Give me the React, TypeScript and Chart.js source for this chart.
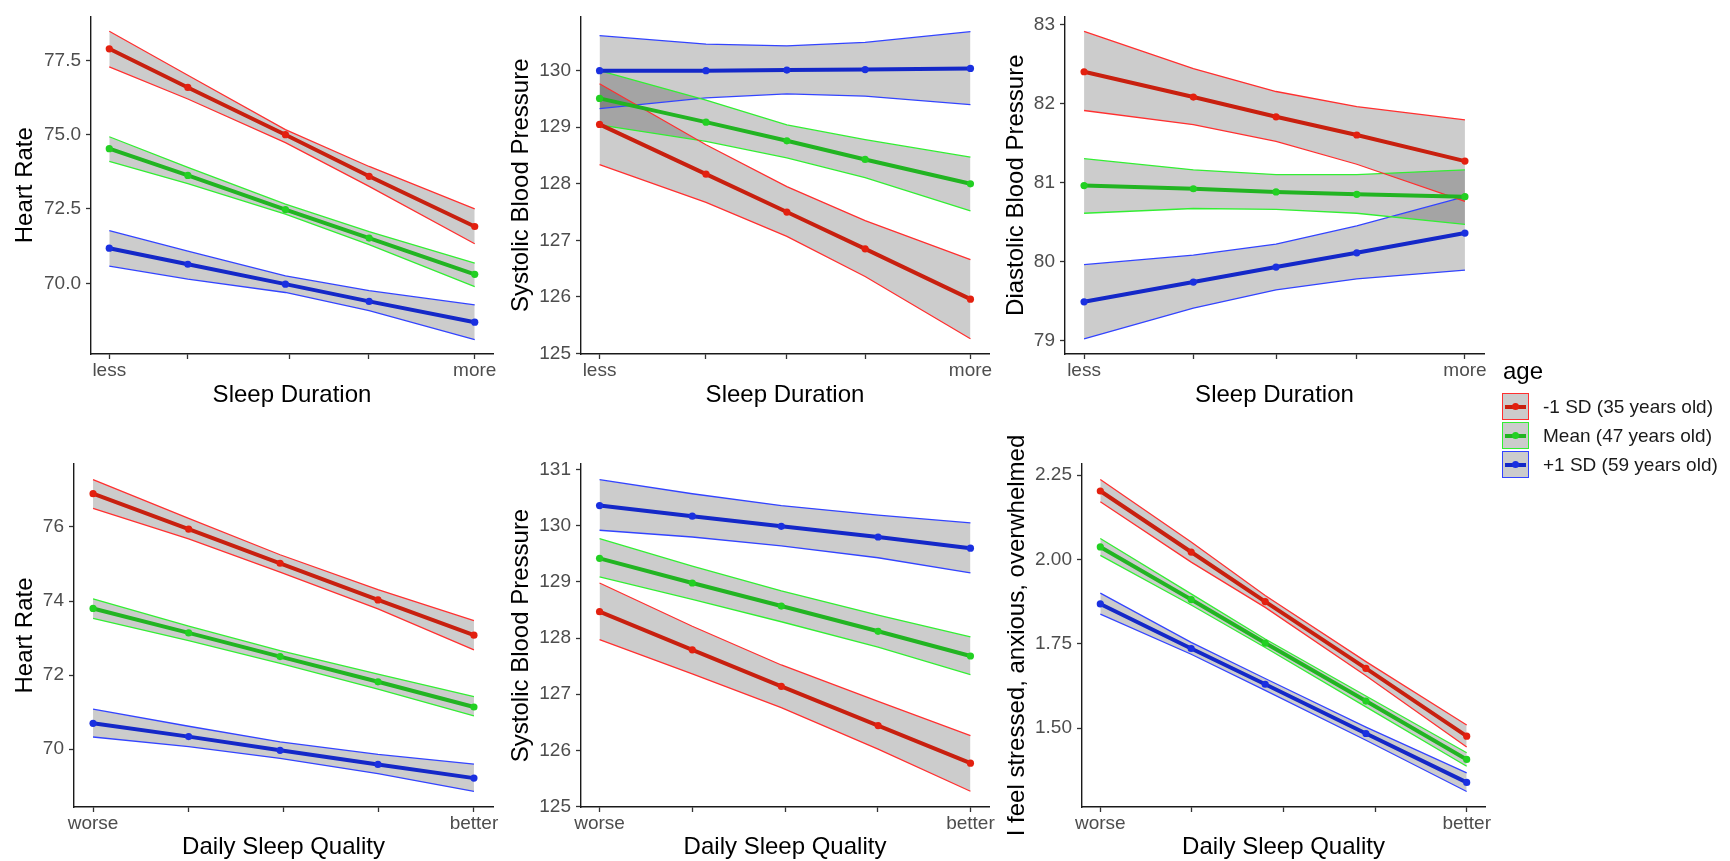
import React, { useEffect, useRef } from 'react';
import { Chart, registerables } from 'chart.js';

Chart.register(...registerables);

const FONT = "'Liberation Sans', Arial, Helvetica, sans-serif";

// ---- groups ----
const GROUP_LABELS = ['-1 SD (35 years old)', 'Mean (47 years old)', '+1 SD (59 years old)'];
const LINE_COLORS = ['#C8200F', '#22B422', '#1428C8'];
const POINT_COLORS = ['#E3200F', '#22D022', '#1A30E0'];
const EDGE_COLORS = ['#FF3030', '#33EE33', '#3344FF'];
const RIBBON_FILL = 'rgba(0,0,0,0.2)';

// ---- axis labels ----
const DURATION_X_LABELS = ['less', '', '', '', 'more'];
const QUALITY_X_LABELS = ['worse', '', '', '', 'better'];

// ---- Panel 1: Heart Rate vs Sleep Duration ----
const P1_X = [0, 0.215, 0.482, 0.711, 1];
const P1_XTICKS = [0, 0.215, 0.494, 0.709, 1];
const P1_YTICKS = [70, 72.5, 75, 77.5];
const P1_RED = [77.89, 76.59, 75.0, 73.6, 71.91];
const P1_RED_HI = [78.48, 77.0, 75.17, 73.93, 72.5];
const P1_RED_LO = [77.28, 76.2, 74.73, 73.26, 71.33];
const P1_GREEN = [74.53, 73.63, 72.48, 71.52, 70.3];
const P1_GREEN_HI = [74.93, 73.9, 72.66, 71.74, 70.68];
const P1_GREEN_LO = [74.1, 73.35, 72.33, 71.3, 69.89];
const P1_BLUE = [71.18, 70.64, 69.97, 69.39, 68.69];
const P1_BLUE_HI = [71.77, 71.08, 70.25, 69.75, 69.27];
const P1_BLUE_LO = [70.58, 70.14, 69.69, 69.08, 68.1];

// ---- Panel 2: Systolic BP vs Sleep Duration ----
const P2_X = [0, 0.287, 0.505, 0.716, 1];
const P2_YTICKS = [125, 126, 127, 128, 129, 130];
const P2_RED = [129.05, 128.17, 127.5, 126.85, 125.96];
const P2_RED_HI = [129.77, 128.69, 127.95, 127.35, 126.66];
const P2_RED_LO = [128.34, 127.67, 127.07, 126.36, 125.26];
const P2_GREEN = [129.51, 129.09, 128.76, 128.43, 128.0];
const P2_GREEN_HI = [130.0, 129.48, 129.04, 128.78, 128.47];
const P2_GREEN_LO = [129.04, 128.75, 128.46, 128.11, 127.52];
const P2_BLUE = [130.0, 130.0, 130.01, 130.02, 130.04];
const P2_BLUE_HI = [130.62, 130.47, 130.44, 130.5, 130.69];
const P2_BLUE_LO = [129.33, 129.52, 129.59, 129.55, 129.4];

// ---- Panel 3: Diastolic BP vs Sleep Duration ----
const P3_X = [0, 0.287, 0.504, 0.716, 1];
const P3_YTICKS = [79, 80, 81, 82, 83];
const P3_RED = [82.4, 82.08, 81.83, 81.6, 81.27];
const P3_RED_HI = [82.91, 82.44, 82.15, 81.96, 81.79];
const P3_RED_LO = [81.91, 81.73, 81.52, 81.23, 80.76];
const P3_GREEN = [80.96, 80.92, 80.88, 80.85, 80.82];
const P3_GREEN_HI = [81.3, 81.16, 81.1, 81.1, 81.16];
const P3_GREEN_LO = [80.61, 80.67, 80.66, 80.61, 80.47];
const P3_BLUE = [79.49, 79.74, 79.93, 80.11, 80.36];
const P3_BLUE_HI = [79.96, 80.08, 80.22, 80.45, 80.82];
const P3_BLUE_LO = [79.02, 79.41, 79.64, 79.78, 79.89];

// ---- Panel 4: Heart Rate vs Daily Sleep Quality ----
const P4_X = [0, 0.251, 0.491, 0.748, 1];
const QUALITY_XTICKS = [0, 0.25, 0.5, 0.75, 1];
const P4_YTICKS = [70, 72, 74, 76];
const P4_RED = [76.9, 75.94, 75.02, 74.03, 73.08];
const P4_RED_HI = [77.28, 76.23, 75.25, 74.31, 73.47];
const P4_RED_LO = [76.5, 75.68, 74.78, 73.79, 72.68];
const P4_GREEN = [73.8, 73.14, 72.5, 71.82, 71.14];
const P4_GREEN_HI = [74.06, 73.32, 72.66, 72.03, 71.42];
const P4_GREEN_LO = [73.53, 72.93, 72.32, 71.62, 70.9];
const P4_BLUE = [70.7, 70.34, 69.97, 69.59, 69.22];
const P4_BLUE_HI = [71.08, 70.62, 70.2, 69.86, 69.6];
const P4_BLUE_LO = [70.33, 70.07, 69.75, 69.34, 68.86];

// ---- Panel 5: Systolic BP vs Daily Sleep Quality ----
const P5_X = [0, 0.25, 0.49, 0.751, 1];
const P5_YTICKS = [125, 126, 127, 128, 129, 130, 131];
const P5_RED = [128.47, 127.79, 127.14, 126.44, 125.77];
const P5_RED_HI = [128.98, 128.21, 127.52, 126.87, 126.26];
const P5_RED_LO = [127.97, 127.36, 126.76, 126.02, 125.27];
const P5_GREEN = [129.42, 128.98, 128.57, 128.12, 127.68];
const P5_GREEN_HI = [129.77, 129.28, 128.84, 128.41, 128.02];
const P5_GREEN_LO = [129.09, 128.69, 128.29, 127.84, 127.35];
const P5_BLUE = [130.36, 130.17, 129.99, 129.8, 129.6];
const P5_BLUE_HI = [130.82, 130.57, 130.36, 130.19, 130.05];
const P5_BLUE_LO = [129.92, 129.8, 129.64, 129.43, 129.16];

// ---- Panel 6: Stress vs Daily Sleep Quality ----
const P6_X = [0, 0.248, 0.45, 0.725, 1];
const P6_YTICKS = [1.5, 1.75, 2.0, 2.25];
const P6_RED = [2.203, 2.022, 1.875, 1.677, 1.476];
const P6_RED_HI = [2.237, 2.052, 1.893, 1.697, 1.509];
const P6_RED_LO = [2.171, 1.992, 1.858, 1.655, 1.444];
const P6_GREEN = [2.037, 1.881, 1.752, 1.58, 1.407];
const P6_GREEN_HI = [2.062, 1.898, 1.764, 1.595, 1.427];
const P6_GREEN_LO = [2.012, 1.865, 1.739, 1.563, 1.387];
const P6_BLUE = [1.868, 1.736, 1.63, 1.484, 1.339];
const P6_BLUE_HI = [1.9, 1.754, 1.647, 1.503, 1.367];
const P6_BLUE_LO = [1.838, 1.719, 1.612, 1.464, 1.312];

type PanelCfg = {
  xTitle: string;
  yTitle: string;
  xs: number[];
  xTicks: number[];
  xLabels: string[];
  yTicks: number[];
  yMin: number;
  yMax: number;
  decimals: number;
  means: number[][];
  his: number[][];
  los: number[][];
  left: number;
  top: number;
  width: number;
  height: number;
  yAxisW: number;
  xAxisH: number;
  padTop: number;
};

const TOP = { top: 0, height: 410, xAxisH: 56, padTop: 12 };
const BOT = { top: 420, height: 442, xAxisH: 55, padTop: 44 };

const PANELS: PanelCfg[] = [
  {
    xTitle: 'Sleep Duration', yTitle: 'Heart Rate', xs: P1_X, xTicks: P1_XTICKS, xLabels: DURATION_X_LABELS,
    yTicks: P1_YTICKS, yMin: 67.62, yMax: 78.98, decimals: 1,
    means: [P1_RED, P1_GREEN, P1_BLUE], his: [P1_RED_HI, P1_GREEN_HI, P1_BLUE_HI], los: [P1_RED_LO, P1_GREEN_LO, P1_BLUE_LO],
    left: 11, width: 507, yAxisW: 80, ...TOP,
  },
  {
    xTitle: 'Sleep Duration', yTitle: 'Systolic Blood Pressure', xs: P2_X, xTicks: P2_X, xLabels: DURATION_X_LABELS,
    yTicks: P2_YTICKS, yMin: 124.99, yMax: 130.96, decimals: 0,
    means: [P2_RED, P2_GREEN, P2_BLUE], his: [P2_RED_HI, P2_GREEN_HI, P2_BLUE_HI], los: [P2_RED_LO, P2_GREEN_LO, P2_BLUE_LO],
    left: 507, width: 507, yAxisW: 74, ...TOP,
  },
  {
    xTitle: 'Sleep Duration', yTitle: 'Diastolic Blood Pressure', xs: P3_X, xTicks: P3_X, xLabels: DURATION_X_LABELS,
    yTicks: P3_YTICKS, yMin: 78.83, yMax: 83.1, decimals: 0,
    means: [P3_RED, P3_GREEN, P3_BLUE], his: [P3_RED_HI, P3_GREEN_HI, P3_BLUE_HI], los: [P3_RED_LO, P3_GREEN_LO, P3_BLUE_LO],
    left: 1002, width: 507, yAxisW: 63, ...TOP,
  },
  {
    xTitle: 'Daily Sleep Quality', yTitle: 'Heart Rate', xs: P4_X, xTicks: QUALITY_XTICKS, xLabels: QUALITY_X_LABELS,
    yTicks: P4_YTICKS, yMin: 68.44, yMax: 77.7, decimals: 0,
    means: [P4_RED, P4_GREEN, P4_BLUE], his: [P4_RED_HI, P4_GREEN_HI, P4_BLUE_HI], los: [P4_RED_LO, P4_GREEN_LO, P4_BLUE_LO],
    left: 11, width: 507, yAxisW: 63, ...BOT,
  },
  {
    xTitle: 'Daily Sleep Quality', yTitle: 'Systolic Blood Pressure', xs: P5_X, xTicks: QUALITY_XTICKS, xLabels: QUALITY_X_LABELS,
    yTicks: P5_YTICKS, yMin: 124.99, yMax: 131.1, decimals: 0,
    means: [P5_RED, P5_GREEN, P5_BLUE], his: [P5_RED_HI, P5_GREEN_HI, P5_BLUE_HI], los: [P5_RED_LO, P5_GREEN_LO, P5_BLUE_LO],
    left: 507, width: 507, yAxisW: 74, ...BOT,
  },
  {
    xTitle: 'Daily Sleep Quality', yTitle: 'I feel stressed, anxious, overwhelmed', xs: P6_X, xTicks: QUALITY_XTICKS, xLabels: QUALITY_X_LABELS,
    yTicks: P6_YTICKS, yMin: 1.266, yMax: 2.283, decimals: 2,
    means: [P6_RED, P6_GREEN, P6_BLUE], his: [P6_RED_HI, P6_GREEN_HI, P6_BLUE_HI], los: [P6_RED_LO, P6_GREEN_LO, P6_BLUE_LO],
    left: 1003, width: 507, yAxisW: 79, ...BOT,
  },
];

function toPts(xs: number[], ys: number[]) {
  return ys.map((y, i) => ({ x: xs[i], y }));
}

function Panel({ cfg }: { cfg: PanelCfg }) {
  const ref = useRef<HTMLCanvasElement | null>(null);
  useEffect(() => {
    if (!ref.current) return;
    const datasets: any[] = [];
    // ribbons (edges + fill)
    for (let g = 0; g < 3; g++) {
      const hiIdx = datasets.length;
      datasets.push({
        label: GROUP_LABELS[g] + ' upper',
        data: toPts(cfg.xs, cfg.his[g]),
        borderColor: EDGE_COLORS[g],
        borderWidth: 1.3,
        pointRadius: 0,
        fill: false,
        tension: 0,
        order: 2,
      });
      datasets.push({
        label: GROUP_LABELS[g] + ' lower',
        data: toPts(cfg.xs, cfg.los[g]),
        borderColor: EDGE_COLORS[g],
        borderWidth: 1.3,
        pointRadius: 0,
        fill: { target: hiIdx },
        backgroundColor: RIBBON_FILL,
        tension: 0,
        order: 2,
      });
    }
    for (let g = 0; g < 3; g++) {
      datasets.push({
        label: GROUP_LABELS[g],
        data: toPts(cfg.xs, cfg.means[g]),
        borderColor: LINE_COLORS[g],
        borderWidth: 4,
        pointRadius: 3.6,
        pointBorderWidth: 0,
        pointBackgroundColor: POINT_COLORS[g],
        fill: false,
        tension: 0,
        order: 1,
      });
    }
    const chart = new Chart(ref.current, {
      type: 'line',
      data: { datasets },
      options: {
        animation: false,
        responsive: false,
        maintainAspectRatio: false,
        layout: { padding: { left: 0, top: cfg.padTop, right: 25, bottom: 0 } },
        plugins: {
          legend: { display: false },
          tooltip: { enabled: false },
          filler: { drawTime: 'beforeDatasetsDraw', propagate: false },
        } as any,
        scales: {
          x: {
            type: 'linear',
            min: -0.05,
            max: 1.05,
            afterBuildTicks: (s: any) => {
              s.ticks = cfg.xTicks.map((v) => ({ value: v }));
            },
            afterFit: (s: any) => {
              s.height = cfg.xAxisH;
            },
            ticks: {
              autoSkip: false,
              maxRotation: 0,
              minRotation: 0,
              padding: 0,
              color: '#4D4D4D',
              font: { family: FONT, size: 19 },
              callback: (_v: any, i: number) => cfg.xLabels[i],
            },
            grid: { drawOnChartArea: false, drawTicks: true, tickLength: 5, tickColor: '#333333', tickWidth: 1.3 },
            border: { display: true, color: '#1A1A1A', width: 1.4 },
            title: { display: true, text: cfg.xTitle, color: '#000000', font: { family: FONT, size: 24 }, padding: 0 },
          },
          y: {
            type: 'linear',
            min: cfg.yMin,
            max: cfg.yMax,
            afterBuildTicks: (s: any) => {
              s.ticks = cfg.yTicks.map((v) => ({ value: v }));
            },
            afterFit: (s: any) => {
              s.width = cfg.yAxisW;
            },
            ticks: {
              autoSkip: false,
              padding: 5,
              color: '#4D4D4D',
              font: { family: FONT, size: 19 },
              callback: (v: any) => Number(v).toFixed(cfg.decimals),
            },
            grid: { drawOnChartArea: false, drawTicks: true, tickLength: 5, tickColor: '#333333', tickWidth: 1.3 },
            border: { display: true, color: '#1A1A1A', width: 1.4 },
            title: { display: true, text: cfg.yTitle, color: '#000000', font: { family: FONT, size: 24 }, padding: 0 },
          },
        },
      } as any,
    });
    return () => chart.destroy();
  }, [cfg]);
  return (
    <canvas
      ref={ref}
      width={cfg.width}
      height={cfg.height}
      style={{ position: 'absolute', left: cfg.left, top: cfg.top, width: cfg.width, height: cfg.height }}
    />
  );
}

function Legend() {
  const rowTops = [393, 422, 451];
  return (
    <div style={{ position: 'absolute', left: 0, top: 0, fontFamily: FONT }}>
      <div style={{ position: 'absolute', left: 1503, top: 356, fontSize: 24, lineHeight: '30px', color: '#000', whiteSpace: 'nowrap' }}>age</div>
      {GROUP_LABELS.map((lab, g) => (
        <React.Fragment key={lab}>
          <div
            style={{
              position: 'absolute', left: 1502, top: rowTops[g], width: 27, height: 27, boxSizing: 'border-box',
              border: `1.6px solid ${EDGE_COLORS[g]}`, background: '#CCCCCC',
            }}
          >
            <div style={{ position: 'absolute', left: 2, right: 2, top: 10.5, height: 4, background: LINE_COLORS[g] }} />
            <div style={{ position: 'absolute', left: 8.5, top: 8.5, width: 7, height: 7, borderRadius: '50%', background: POINT_COLORS[g] }} />
          </div>
          <div
            style={{
              position: 'absolute', left: 1543, top: rowTops[g] + 2, fontSize: 19, lineHeight: '24px', color: '#1A1A1A', whiteSpace: 'nowrap',
            }}
          >
            {lab}
          </div>
        </React.Fragment>
      ))}
    </div>
  );
}

export default function App() {
  return (
    <div style={{ position: 'fixed', left: 0, top: 0, width: 1730, height: 861, background: '#FFFFFF', overflow: 'hidden' }}>
      {PANELS.map((p, i) => (
        <Panel key={i} cfg={p} />
      ))}
      <Legend />
    </div>
  );
}
